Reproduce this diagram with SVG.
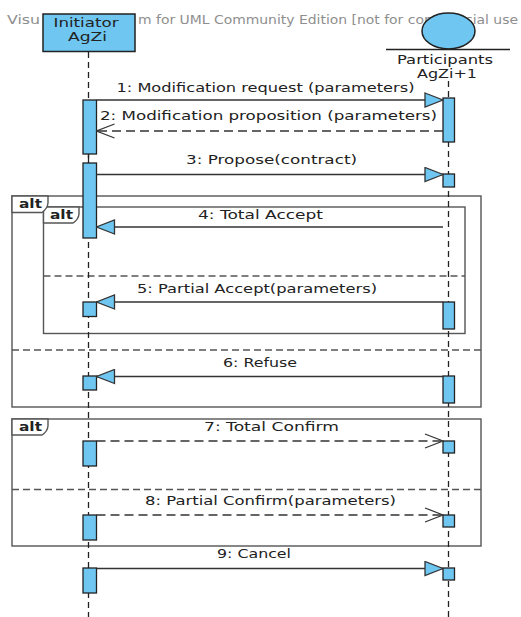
<svg xmlns="http://www.w3.org/2000/svg" width="521" height="617" viewBox="0 0 521 617">
<style>
text{font-family:"DejaVu Sans","Liberation Sans",sans-serif;font-size:12px;fill:#222}
.wm{fill:#8e8e8e;font-size:12px}
.lbl{fill:#222}
.tab{font-weight:bold;fill:#222}
.life{stroke:#222;stroke-width:1.3;stroke-dasharray:6,4;fill:none}
.act{fill:#6ec6f1;stroke:#222;stroke-width:1.3}
.frame{fill:none;stroke:#555;stroke-width:1.4}
.sep{fill:none;stroke:#555;stroke-width:1.3;stroke-dasharray:7,4}
.tabshape{fill:#fff;stroke:#555;stroke-width:1.4}
.msg{stroke:#333;stroke-width:1.3;fill:none}
.sync{marker-end:url(#filled)}
.reply{stroke-dasharray:9,5;marker-end:url(#open)}
</style>
<defs>
<marker id="filled" markerUnits="userSpaceOnUse" markerWidth="20" markerHeight="16" refX="18" refY="7" orient="auto" viewBox="-1 -1 20 16">
<path d="M0,0 L18,7 L0,14 Z" fill="#6ec6f1" stroke="#333" stroke-width="1.3"/>
</marker>
<marker id="open" markerUnits="userSpaceOnUse" markerWidth="20" markerHeight="16" refX="18" refY="7" orient="auto" viewBox="-1 -1 20 16">
<path d="M0,0 L18,7 L0,14" fill="none" stroke="#333" stroke-width="1.3"/>
</marker>
</defs>
<rect width="521" height="617" fill="#fff"/>
<text class="wm" x="7" y="24" textLength="33" lengthAdjust="spacingAndGlyphs">Visu</text>
<text class="wm" x="138" y="24" textLength="380" lengthAdjust="spacingAndGlyphs">m for UML Community Edition [not for commercial use</text>

<g id="fragments">
<rect class="frame" x="12" y="196" width="469" height="211"/>
<line class="sep" x1="12" y1="350" x2="481" y2="350"/>
<rect class="frame" x="43.5" y="207" width="421.5" height="126.5"/>
<line class="sep" x1="43.5" y1="276" x2="465" y2="276"/>
<path class="tabshape" d="M43.5,207 H79 V214 Q78.5,219.5 73,223 H43.5 Z"/>
<text class="tab" x="50" y="218.5" textLength="23" lengthAdjust="spacingAndGlyphs">alt</text>
<path class="tabshape" d="M12,196 H48 V203 Q47.5,208.5 42,212.5 H12 Z"/>
<text class="tab" x="19" y="207.5" textLength="23" lengthAdjust="spacingAndGlyphs">alt</text>
<rect class="frame" x="12" y="419" width="469" height="127"/>
<line class="sep" x1="12" y1="489.5" x2="481" y2="489.5"/>
<path class="tabshape" d="M12,419 H48 V426 Q47.5,431.5 42,435 H12 Z"/>
<text class="tab" x="19" y="430.5" textLength="23" lengthAdjust="spacingAndGlyphs">alt</text>
</g>

<g id="initiator">
<line class="life" x1="88.5" y1="52" x2="88.5" y2="617"/>
<rect x="43" y="14" width="92" height="37.5" fill="#6ec6f1" stroke="#222" stroke-width="1.5"/>
<text x="53.5" y="26.5" textLength="65" lengthAdjust="spacingAndGlyphs">Initiator</text>
<text x="68" y="40.5" textLength="39" lengthAdjust="spacingAndGlyphs">AgZi</text>
<rect class="act" x="83" y="100" width="13.5" height="54"/>
<line x1="88.5" y1="154" x2="88.5" y2="163" stroke="#222" stroke-width="1.3"/>
<rect class="act" x="83" y="163" width="13.5" height="75"/>
<rect class="act" x="83" y="302" width="13.5" height="14.5"/>
<rect class="act" x="83" y="376" width="13.5" height="14"/>
<rect class="act" x="83" y="441" width="13.5" height="25"/>
<rect class="act" x="83" y="515" width="13.5" height="25"/>
<rect class="act" x="83" y="568" width="13.5" height="25"/>
</g>

<g id="participant">
<line class="life" x1="448.5" y1="81" x2="448.5" y2="617"/>
<ellipse cx="448.5" cy="31" rx="26.5" ry="18" fill="#6ec6f1" stroke="#222" stroke-width="1.5"/>
<line x1="386" y1="49.5" x2="510" y2="49.5" stroke="#222" stroke-width="1.4"/>
<text x="397" y="63.5" textLength="96" lengthAdjust="spacingAndGlyphs">Participants</text>
<text x="417" y="78" textLength="60" lengthAdjust="spacingAndGlyphs">AgZi+1</text>
<rect class="act" x="443" y="98" width="11.5" height="44"/>
<rect class="act" x="443" y="174" width="11.5" height="13"/>
<rect class="act" x="443" y="302" width="11.5" height="27"/>
<rect class="act" x="443" y="376" width="11.5" height="27"/>
<rect class="act" x="443" y="441" width="11.5" height="12"/>
<rect class="act" x="443" y="515" width="11.5" height="12"/>
<rect class="act" x="443" y="568" width="11.5" height="12"/>
</g>

<g id="connectors">
<line class="msg sync" x1="96.5" y1="100" x2="443" y2="100"/>
<text class="lbl" x="116.5" y="91.5" textLength="298" lengthAdjust="spacingAndGlyphs">1: Modification request (parameters)</text>
<line class="msg reply" x1="443" y1="131" x2="96.5" y2="131"/>
<text class="lbl" x="100" y="120" textLength="337" lengthAdjust="spacingAndGlyphs">2: Modification proposition (parameters)</text>
<line class="msg sync" x1="96.5" y1="174.5" x2="443" y2="174.5"/>
<text class="lbl" x="186" y="163.5" textLength="171" lengthAdjust="spacingAndGlyphs">3: Propose(contract)</text>
<line class="msg sync" x1="443" y1="227" x2="96.5" y2="227"/>
<text class="lbl" x="198" y="218.5" textLength="125" lengthAdjust="spacingAndGlyphs">4: Total Accept</text>
<line class="msg sync" x1="443" y1="302" x2="96.5" y2="302"/>
<text class="lbl" x="137" y="293" textLength="240" lengthAdjust="spacingAndGlyphs">5: Partial Accept(parameters)</text>
<line class="msg sync" x1="443" y1="376.5" x2="96.5" y2="376.5"/>
<text class="lbl" x="223" y="367" textLength="74" lengthAdjust="spacingAndGlyphs">6: Refuse</text>
<line class="msg reply" x1="96.5" y1="441" x2="443" y2="441"/>
<text class="lbl" x="204" y="430.5" textLength="135" lengthAdjust="spacingAndGlyphs">7: Total Confirm</text>
<line class="msg reply" x1="96.5" y1="515" x2="443" y2="515"/>
<text class="lbl" x="145" y="505" textLength="251" lengthAdjust="spacingAndGlyphs">8: Partial Confirm(parameters)</text>
<line class="msg sync" x1="96.5" y1="568.5" x2="443" y2="568.5"/>
<text class="lbl" x="217" y="558" textLength="74" lengthAdjust="spacingAndGlyphs">9: Cancel</text>
</g>
</svg>
